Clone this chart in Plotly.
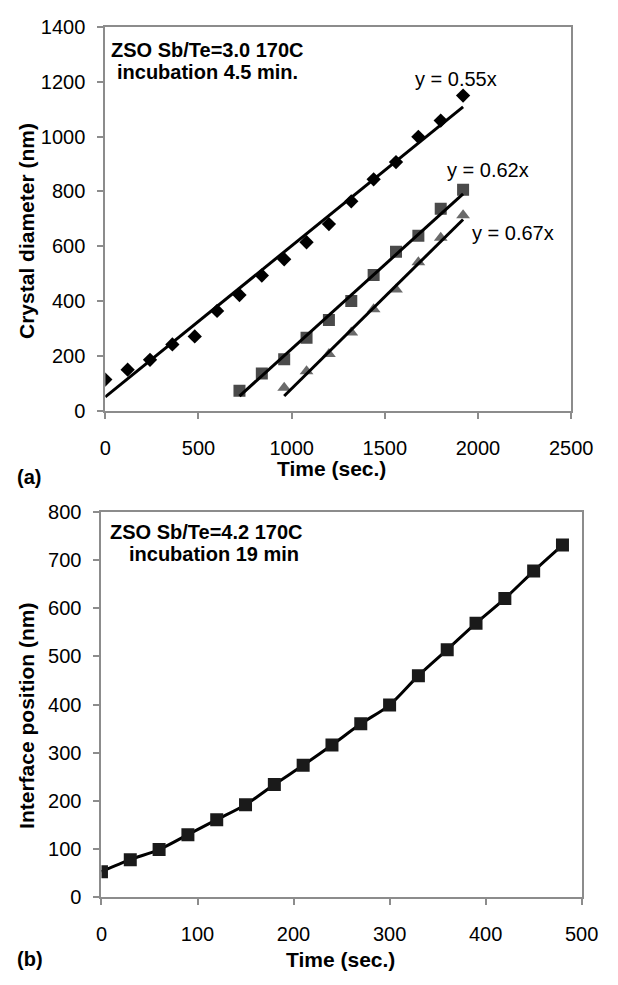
import plotly.graph_objects as go

W, H = 618, 985

# ---------- data (a) ----------
t_diam = [0, 120, 240, 360, 480, 600, 720, 840, 960, 1080, 1200, 1320, 1440, 1560, 1680, 1800, 1920]
d_diam = [115, 151, 187, 243, 272, 365, 423, 494, 553, 615, 681, 764, 844, 907, 999, 1058, 1149]

t_sq = [720, 840, 960, 1080, 1200, 1320, 1440, 1560, 1680, 1800, 1920]
d_sq = [74, 137, 189, 267, 332, 401, 496, 580, 639, 737, 806]

t_tri = [960, 1080, 1200, 1320, 1440, 1560, 1680, 1800, 1920]
d_tri = [85, 145, 208, 286, 371, 443, 542, 631, 713]

trend1_t = [0, 1920]
trend1_d = [52, 1108]
trend2_t = [720, 1920]
trend2_d = [55, 791]
trend3_t = [960, 1920]
trend3_d = [55, 698]

trend_labels = ["y = 0.55x", "y = 0.62x", "y = 0.67x"]
trend_label_t = [1880, 2054, 2187]
trend_label_d = [1209, 877, 647]

# ---------- data (b) ----------
t_int = [0, 30, 60, 90, 120, 150, 180, 210, 240, 270, 300, 330, 360, 390, 420, 450, 480]
p_int = [53, 78, 99, 130, 161, 192, 234, 274, 316, 360, 399, 460, 514, 569, 620, 677, 731]

FONT = "Liberation Sans, Arial, sans-serif"
AXC = "#8c8c8c"

fig = go.Figure()

fig.add_trace(go.Scatter(x=t_diam, y=d_diam, mode="markers",
                         marker=dict(symbol="diamond", size=11, color="#000000"),
                         xaxis="x", yaxis="y", showlegend=False))
fig.add_trace(go.Scatter(x=t_sq, y=d_sq, mode="markers",
                         marker=dict(symbol="square", size=12, color="#4a4a4a"),
                         xaxis="x", yaxis="y", showlegend=False))
fig.add_trace(go.Scatter(x=t_tri, y=d_tri, mode="markers",
                         marker=dict(symbol="triangle-up", size=12, color="#6a6a6a"),
                         xaxis="x", yaxis="y", showlegend=False))
for tx, ty in [(trend1_t, trend1_d), (trend2_t, trend2_d), (trend3_t, trend3_d)]:
    fig.add_trace(go.Scatter(x=tx, y=ty, mode="lines",
                             line=dict(color="#000000", width=3),
                             xaxis="x", yaxis="y", showlegend=False))

fig.add_trace(go.Scatter(x=t_int, y=p_int, mode="lines+markers",
                         line=dict(color="#000000", width=3, shape="spline", smoothing=0.8),
                         marker=dict(symbol="square", size=13, color="#1a1a1a"),
                         xaxis="x2", yaxis="y2", showlegend=False))

def px(x):
    return x / W

def py(y):
    return 1 - y / H

axis_common = dict(showline=True, mirror=True, linecolor=AXC, linewidth=2,
                   ticks="outside", ticklen=6, tickwidth=1.5, tickcolor=AXC,
                   showgrid=False, zeroline=False,
                   tickfont=dict(family=FONT, size=20, color="#000000"))

fig.update_layout(
    width=W, height=H,
    margin=dict(l=0, r=0, t=0, b=0),
    paper_bgcolor="white", plot_bgcolor="white",
    xaxis=dict(domain=[px(104), px(592)], range=[0, 2500], dtick=500,
               anchor="y", ticklabelstandoff=12, **axis_common),
    yaxis=dict(domain=[py(409.3), py(16)], range=[0, 1400], dtick=200,
               anchor="x", ticklabelstandoff=8, **axis_common),
    xaxis2=dict(domain=[px(100), px(603)], range=[0, 500], dtick=100,
                anchor="y2", ticklabelstandoff=12, **axis_common),
    yaxis2=dict(domain=[py(906.5), py(512.3)], range=[0, 800], dtick=100,
                anchor="x2", ticklabelstandoff=8, **axis_common),
)

ann = []
def pa(text, x, y, size=20, bold=True, xanchor="center", textangle=0):
    ann.append(dict(text=f"<b>{text}</b>" if bold else text,
                    x=px(x), y=py(y), xref="paper", yref="paper",
                    xanchor=xanchor, yanchor="middle", showarrow=False,
                    textangle=textangle,
                    font=dict(family=FONT, size=size, color="#000000")))

pa("ZSO Sb/Te=3.0 170C", 108, 40, size=20, xanchor="left")
pa("incubation 4.5 min.", 114, 62, size=20, xanchor="left")
pa("Time (sec.)", 341, 468, size=21)
pa("(a)", 24, 477, size=20)
pa("Crystal diameter (nm)", 22, 225, size=21, textangle=-90)

pa("ZSO Sb/Te=4.2 170C", 107, 533, size=20, xanchor="left")
pa("incubation 19 min", 127, 555, size=20, xanchor="left")
pa("Time (sec.)", 350, 970, size=21)
pa("(b)", 25, 970, size=20)
pa("Interface position (nm)", 22, 721, size=21, textangle=-90)

for lab, lx, ly in zip(trend_labels, trend_label_t, trend_label_d):
    ann.append(dict(text=lab, x=lx, y=ly, xref="x", yref="y",
                    xanchor="center", yanchor="middle", showarrow=False,
                    font=dict(family=FONT, size=20, color="#000000")))

fig.update_layout(annotations=ann)

fig.write_html("out.html",
               config={"displayModeBar": False},
               post_script="document.body.style.margin='0';document.body.style.overflow='hidden';")
